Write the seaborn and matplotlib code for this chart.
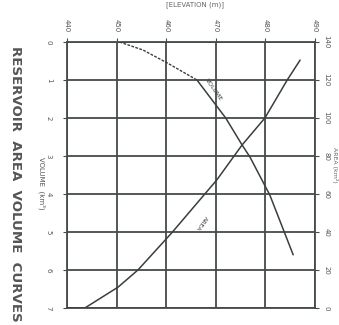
import matplotlib
matplotlib.use("Agg")
import matplotlib.pyplot as plt
import seaborn as sns
import pandas as pd

# Data (chart is shown rotated 90 degrees clockwise)
elev_ticks = [440, 450, 460, 470, 480, 490]
vol_ticks = [0, 1, 2, 3, 4, 5, 6, 7]
area_ticks = [0, 20, 40, 60, 80, 100, 120, 140]

vol_elev = [450.6, 455.3, 460.2, 466.2, 472.0, 475.3, 476.9, 480.9, 485.6]
vol_vals = [0.0, 0.21, 0.55, 1.0, 2.0, 2.71, 3.03, 4.03, 5.6]

area_elev = [440.2, 443.6, 450.3, 454.3, 461.1, 470.2, 475.3, 479.9, 484.4, 487.0]
area_vals = [0.0, 0.0, 11.0, 20.0, 39.5, 67.4, 85.8, 100.0, 120.0, 130.5]

sns.set_style("white")
plt.rcParams["font.family"] = ["DejaVu Sans"]

ink = "#3a3f3b"
grid_c = "#454b46"

fig = plt.figure(figsize=(3.39, 3.25), dpi=100)
ax = fig.add_axes([67/339, 17/325, 248/339, 266/325])

dfv = pd.DataFrame({"elev": vol_elev, "vol": vol_vals})
dashed_part = dfv[dfv["elev"] <= 466.2]
solid_part = dfv[dfv["elev"] >= 466.2]
sns.lineplot(data=dashed_part, x="elev", y="vol", ax=ax, color=ink, lw=1.0,
             linestyle=(0, (2, 1)), sort=False, zorder=3)
sns.lineplot(data=solid_part, x="elev", y="vol", ax=ax, color=ink, lw=1.1,
             sort=False, zorder=3)

ax.set_xlim(elev_ticks[0], elev_ticks[-1])
ax.set_ylim(vol_ticks[-1], vol_ticks[0])
ax.set_xticks(elev_ticks)
ax.set_yticks(vol_ticks)
ax.grid(True, color=grid_c, lw=1.3)
ax.xaxis.tick_top()
ax.set_xticklabels([str(v) for v in elev_ticks], rotation=-90, fontsize=5, color="#555")
ax.set_yticklabels([str(v) for v in vol_ticks], rotation=-90, fontsize=5, color="#555",
                   va="center")
ax.tick_params(axis="x", length=3, pad=4, color=grid_c)
ax.tick_params(axis="y", length=3, pad=8, color=grid_c)
ax.set_xlabel("")
ax.set_ylabel("")
for s in ax.spines.values():
    s.set_color(grid_c)
    s.set_linewidth(1.3)

ax2 = ax.twinx()
dfa = pd.DataFrame({"elev": area_elev, "area": area_vals})
sns.lineplot(data=dfa, x="elev", y="area", ax=ax2, color=ink, lw=1.1, sort=False, zorder=3)
ax2.set_ylim(area_ticks[0], area_ticks[-1])
ax2.set_yticks(area_ticks)
ax2.set_yticklabels([str(v) for v in area_ticks], rotation=-90, fontsize=5, color="#555",
                    va="center")
ax2.tick_params(axis="y", length=3, pad=3, color=grid_c)
ax2.set_ylabel("")
for s in ax2.spines.values():
    s.set_visible(False)

# curve labels
ax.text(469.6, 1.25, "VOLUME", rotation=-55, fontsize=4.5, color=ink,
        ha="center", va="center")
ax.text(467.0, 4.75, "AREA", rotation=-125, fontsize=4.5, color=ink,
        ha="center", va="center")

# titles / axis names
fig.text(15/339, 1 - 184/325, "RESERVOIR  AREA  VOLUME  CURVES", rotation=-90,
         fontsize=9.6, color="#555", ha="center", va="center", fontweight="bold")
fig.text(42/339, 1 - 183/325, "VOLUME  (km³)", rotation=-90, fontsize=5,
         color="#555", ha="center", va="center")
fig.text(335/339, 1 - 165/325, "AREA (km²)", rotation=-90, fontsize=4.5,
         color="#666", ha="center", va="center")
fig.text(195/339, 1 - 5/325, "[ELEVATION (m)]", fontsize=5, color="#666",
         ha="center", va="center")

fig.savefig("out.png", dpi=100, facecolor="white")
